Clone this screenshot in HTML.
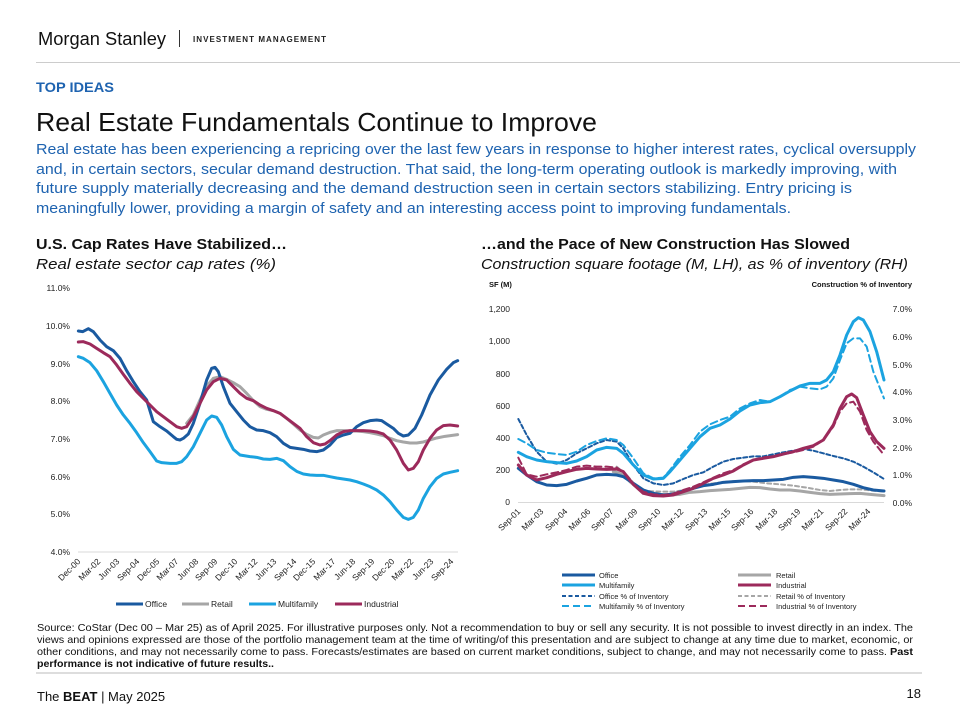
<!DOCTYPE html>
<html><head><meta charset="utf-8"><style>
html,body{margin:0;padding:0;background:#fff;}
svg{display:block;font-family:"Liberation Sans",Arial,sans-serif;}
</style></head><body>
<svg width="960" height="720" viewBox="0 0 960 720" xmlns="http://www.w3.org/2000/svg">
<!-- header -->
<text x="38" y="45" font-size="18" fill="#111" textLength="128" lengthAdjust="spacingAndGlyphs">Morgan Stanley</text>
<line x1="179.5" y1="30" x2="179.5" y2="47" stroke="#333" stroke-width="1"/>
<text x="193" y="42" font-size="8" font-weight="bold" fill="#222" textLength="134" letter-spacing="1">INVESTMENT MANAGEMENT</text>
<line x1="36" y1="62.5" x2="960" y2="62.5" stroke="#ccc" stroke-width="1"/>
<text x="36" y="92" font-size="14" font-weight="bold" fill="#1e63b0" textLength="78" lengthAdjust="spacingAndGlyphs">TOP IDEAS</text>
<text x="36" y="131" font-size="26" fill="#111" textLength="561" lengthAdjust="spacingAndGlyphs">Real Estate Fundamentals Continue to Improve</text>
<g font-size="15" fill="#1e63b0">
<text x="36" y="154" textLength="880" lengthAdjust="spacingAndGlyphs">Real estate has been experiencing a repricing over the last few years in response to higher interest rates, cyclical oversupply</text>
<text x="36" y="174" textLength="861" lengthAdjust="spacingAndGlyphs">and, in certain sectors, secular demand destruction. That said, the long-term operating outlook is markedly improving, with</text>
<text x="36" y="193" textLength="816" lengthAdjust="spacingAndGlyphs">future supply materially decreasing and the demand destruction seen in certain sectors stabilizing. Entry pricing is</text>
<text x="36" y="213" textLength="755" lengthAdjust="spacingAndGlyphs">meaningfully lower, providing a margin of safety and an interesting access point to improving fundamentals.</text>
</g>
<text x="36" y="249" font-size="15" font-weight="bold" fill="#111" textLength="251" lengthAdjust="spacingAndGlyphs">U.S. Cap Rates Have Stabilized…</text>
<text x="36" y="269" font-size="15" font-style="italic" fill="#111" textLength="240" lengthAdjust="spacingAndGlyphs">Real estate sector cap rates (%)</text>
<text x="481" y="249" font-size="15" font-weight="bold" fill="#111" textLength="369" lengthAdjust="spacingAndGlyphs">…and the Pace of New Construction Has Slowed</text>
<text x="481" y="269" font-size="15" font-style="italic" fill="#111" textLength="427" lengthAdjust="spacingAndGlyphs">Construction square footage (M, LH), as % of inventory (RH)</text>

<!-- LEFT CHART -->
<g font-size="8.5" fill="#222" text-anchor="end">
<text x="70" y="291">11.0%</text><text x="70" y="329">10.0%</text><text x="70" y="367">9.0%</text>
<text x="70" y="404">8.0%</text><text x="70" y="442">7.0%</text><text x="70" y="480">6.0%</text>
<text x="70" y="517">5.0%</text><text x="70" y="555">4.0%</text>
</g>
<line x1="78" y1="552" x2="458" y2="552" stroke="#d9d9d9" stroke-width="1"/>
<g font-size="8.5" fill="#222" text-anchor="end">
<text transform="translate(81,562) rotate(-45)">Dec-00</text>
<text transform="translate(101,562) rotate(-45)">Mar-02</text>
<text transform="translate(120,562) rotate(-45)">Jun-03</text>
<text transform="translate(140,562) rotate(-45)">Sep-04</text>
<text transform="translate(160,562) rotate(-45)">Dec-05</text>
<text transform="translate(179,562) rotate(-45)">Mar-07</text>
<text transform="translate(199,562) rotate(-45)">Jun-08</text>
<text transform="translate(218,562) rotate(-45)">Sep-09</text>
<text transform="translate(238,562) rotate(-45)">Dec-10</text>
<text transform="translate(258,562) rotate(-45)">Mar-12</text>
<text transform="translate(277,562) rotate(-45)">Jun-13</text>
<text transform="translate(297,562) rotate(-45)">Sep-14</text>
<text transform="translate(316,562) rotate(-45)">Dec-15</text>
<text transform="translate(336,562) rotate(-45)">Mar-17</text>
<text transform="translate(356,562) rotate(-45)">Jun-18</text>
<text transform="translate(375,562) rotate(-45)">Sep-19</text>
<text transform="translate(395,562) rotate(-45)">Dec-20</text>
<text transform="translate(414,562) rotate(-45)">Mar-22</text>
<text transform="translate(434,562) rotate(-45)">Jun-23</text>
<text transform="translate(454,562) rotate(-45)">Sep-24</text>
</g>
<g transform="translate(30,280) scale(0.33333)" fill="none" stroke-linejoin="round" stroke-linecap="round">
<polyline vector-effect="non-scaling-stroke" stroke-width="3" stroke="#a6a6a6" points="470,430 490,405 510,360 530,318 550,295 570,290 590,298 610,308 630,320 650,340 670,362 690,380 710,388 730,392 750,400 770,415 790,432 810,450 830,463 850,472 865,474 880,465 900,457 920,452 940,452 960,453 980,453 1000,455 1020,458 1040,462 1060,467 1080,475 1100,482 1120,486 1140,489 1160,489 1180,486 1200,480 1220,474 1245,469 1283,464"/>
<polyline vector-effect="non-scaling-stroke" stroke-width="3" stroke="#1ba3e0" points="145,230 160,235 180,248 200,272 220,305 240,340 260,375 280,405 300,430 320,458 340,488 360,515 380,543 395,548 420,550 440,550 455,545 470,530 490,500 510,460 530,420 545,408 560,412 575,435 590,470 610,508 630,525 660,530 680,532 700,537 720,538 740,535 760,542 780,560 800,574 820,582 840,585 860,586 880,586 900,590 920,594 940,597 960,600 980,605 1000,612 1020,620 1040,630 1060,645 1080,665 1100,690 1120,712 1135,718 1150,712 1165,690 1180,655 1200,620 1220,595 1240,582 1260,577 1283,572"/>
<polyline vector-effect="non-scaling-stroke" stroke-width="3" stroke="#1a5aa0" points="145,153 158,155 175,146 190,155 210,180 230,200 250,212 270,235 290,272 310,305 330,335 350,360 370,425 390,440 410,453 430,470 440,478 450,480 460,475 475,462 490,430 510,370 530,300 545,265 555,262 565,275 580,320 600,370 620,395 640,420 660,440 680,450 700,452 720,458 740,470 760,490 780,502 800,505 820,508 840,513 860,515 880,510 900,495 920,473 940,465 960,460 980,440 1000,428 1020,422 1040,420 1055,422 1070,432 1090,445 1105,460 1120,468 1135,465 1155,445 1175,405 1200,345 1225,300 1250,268 1270,248 1283,242"/>
<polyline vector-effect="non-scaling-stroke" stroke-width="3" stroke="#9c2a5b" points="145,186 160,185 180,192 200,205 220,218 240,230 260,255 280,283 300,310 320,335 340,355 360,375 380,395 400,410 420,425 440,440 455,445 470,440 490,410 510,370 530,330 550,305 570,295 590,300 610,320 630,340 650,355 670,362 690,375 710,385 730,392 750,400 770,415 790,430 810,445 830,470 850,488 870,495 885,492 900,482 920,465 940,455 960,452 980,452 1000,452 1020,453 1040,456 1060,462 1080,480 1100,510 1120,550 1135,570 1150,565 1165,545 1180,510 1200,475 1220,450 1240,437 1260,435 1283,438"/>
</g>
<g font-size="8.5" fill="#222">
<line x1="116" y1="604" x2="143" y2="604" stroke="#1a5aa0" stroke-width="3"/><text x="145" y="607">Office</text>
<line x1="182" y1="604" x2="209" y2="604" stroke="#a6a6a6" stroke-width="3"/><text x="211" y="607">Retail</text>
<line x1="249" y1="604" x2="276" y2="604" stroke="#1ba3e0" stroke-width="3"/><text x="278" y="607">Multifamily</text>
<line x1="335" y1="604" x2="362" y2="604" stroke="#9c2a5b" stroke-width="3"/><text x="364" y="607">Industrial</text>
</g>

<!-- RIGHT CHART -->
<text x="489" y="287" font-size="7.5" font-weight="bold" fill="#111">SF (M)</text>
<text x="912" y="287" font-size="7.5" font-weight="bold" fill="#111" text-anchor="end">Construction % of Inventory</text>
<g font-size="8.5" fill="#222" text-anchor="end">
<text x="510" y="312">1,200</text><text x="510" y="344">1,000</text><text x="510" y="377">800</text>
<text x="510" y="409">600</text><text x="510" y="441">400</text><text x="510" y="473">200</text><text x="510" y="505">0</text>
<text x="912" y="312">7.0%</text><text x="912" y="340">6.0%</text><text x="912" y="368">5.0%</text>
<text x="912" y="395">4.0%</text><text x="912" y="423">3.0%</text><text x="912" y="451">2.0%</text>
<text x="912" y="478">1.0%</text><text x="912" y="506">0.0%</text>
</g>
<line x1="518" y1="502.5" x2="884" y2="502.5" stroke="#d9d9d9" stroke-width="1"/>
<g font-size="8.5" fill="#222" text-anchor="end">
<text transform="translate(521,512) rotate(-45)">Sep-01</text>
<text transform="translate(544,512) rotate(-45)">Mar-03</text>
<text transform="translate(568,512) rotate(-45)">Sep-04</text>
<text transform="translate(591,512) rotate(-45)">Mar-06</text>
<text transform="translate(614,512) rotate(-45)">Sep-07</text>
<text transform="translate(638,512) rotate(-45)">Mar-09</text>
<text transform="translate(661,512) rotate(-45)">Sep-10</text>
<text transform="translate(684,512) rotate(-45)">Mar-12</text>
<text transform="translate(708,512) rotate(-45)">Sep-13</text>
<text transform="translate(731,512) rotate(-45)">Mar-15</text>
<text transform="translate(754,512) rotate(-45)">Sep-16</text>
<text transform="translate(778,512) rotate(-45)">Mar-18</text>
<text transform="translate(801,512) rotate(-45)">Sep-19</text>
<text transform="translate(824,512) rotate(-45)">Mar-21</text>
<text transform="translate(848,512) rotate(-45)">Sep-22</text>
<text transform="translate(871,512) rotate(-45)">Mar-24</text>
</g>
<g transform="translate(480,275) scale(0.33333)" fill="none" stroke-linejoin="round" stroke-linecap="round">
<polyline vector-effect="non-scaling-stroke" stroke-width="3" stroke="#a6a6a6" points="400,590 410,592 430,600 450,620 480,645 510,655 540,658 570,660 600,658 630,652 660,650 690,647 720,645 750,643 780,640 810,637 840,638 870,642 900,645 930,645 960,648 990,652 1020,656 1050,658 1080,657 1110,656 1140,655 1170,658 1212,662"/>
<polyline vector-effect="non-scaling-stroke" stroke-width="2" stroke="#a6a6a6" stroke-dasharray="4,3" points="410,575 440,600 470,635 500,648 540,650 580,650 620,645 660,632 700,625 740,620 780,618 820,620 860,625 900,628 940,632 980,638 1020,645 1050,648 1080,645 1110,643 1140,643 1170,646 1212,650"/>
<polyline vector-effect="non-scaling-stroke" stroke-width="3" stroke="#1a5aa0" points="115,580 140,600 170,620 200,630 230,632 260,628 290,618 320,610 350,600 380,598 410,600 430,605 460,625 490,645 520,655 550,660 580,657 610,648 640,640 670,632 700,628 730,622 760,620 790,618 820,617 850,617 880,615 910,613 940,607 970,605 1000,607 1030,610 1060,615 1090,620 1120,628 1150,638 1180,645 1212,648"/>
<polyline vector-effect="non-scaling-stroke" stroke-width="2" stroke="#1a5aa0" stroke-dasharray="4,2.5" points="115,432 140,480 170,530 200,560 230,566 260,555 290,535 320,520 350,505 380,495 410,500 430,520 460,570 490,610 520,625 550,630 580,625 610,612 640,600 670,592 700,575 730,560 760,552 790,548 820,544 850,544 880,538 910,532 940,527 970,522 1000,527 1030,535 1060,543 1090,550 1120,560 1150,575 1180,592 1212,612"/>
<polyline vector-effect="non-scaling-stroke" stroke-width="3" stroke="#9c2a5b" points="115,570 140,600 170,615 200,608 230,598 260,590 290,583 320,580 350,582 380,583 410,582 430,590 460,628 490,655 520,662 550,663 580,660 610,650 640,640 670,625 700,610 730,600 760,588 790,570 820,555 850,550 880,545 910,537 940,530 970,520 1000,512 1030,495 1060,450 1080,400 1100,365 1115,357 1130,368 1150,420 1170,470 1190,500 1212,520"/>
<polyline vector-effect="non-scaling-stroke" stroke-width="2" stroke="#9c2a5b" stroke-dasharray="7,4" points="115,548 140,598 170,605 200,598 230,592 260,585 290,575 320,572 350,575 380,575 410,578 430,590 460,628 490,650 520,658 550,660 580,656 610,645 640,635 670,622 700,608 730,595 760,585 790,568 820,555 850,547 880,544 910,537 940,532 970,525 1000,515 1030,495 1060,455 1080,410 1100,385 1120,380 1140,410 1160,465 1180,500 1212,540"/>
<polyline vector-effect="non-scaling-stroke" stroke-width="3" stroke="#1ba3e0" points="115,532 140,545 170,555 200,560 230,563 260,565 290,558 320,545 350,525 380,517 410,520 430,535 460,570 490,600 520,612 550,610 570,590 600,555 630,520 660,485 690,460 720,450 750,432 780,408 810,390 840,383 870,380 900,365 930,348 960,333 990,325 1020,325 1040,315 1060,290 1080,240 1100,180 1120,140 1135,128 1150,135 1170,170 1190,230 1212,315"/>
<polyline vector-effect="non-scaling-stroke" stroke-width="2" stroke="#1ba3e0" stroke-dasharray="7,4" points="115,492 140,505 170,525 200,533 230,537 260,540 290,530 320,510 350,498 380,490 410,495 430,510 460,550 490,595 520,610 550,608 570,585 600,545 630,510 660,470 690,448 720,435 750,425 780,400 810,385 840,375 870,380 900,365 930,345 960,335 990,340 1020,343 1040,335 1060,310 1080,255 1100,205 1120,190 1140,190 1160,215 1180,290 1212,370"/>
</g>
<g font-size="7.5" fill="#222">
<line x1="562" y1="575" x2="595" y2="575" stroke="#1a5aa0" stroke-width="3"/><text x="599" y="578">Office</text>
<line x1="738" y1="575" x2="771" y2="575" stroke="#a6a6a6" stroke-width="3"/><text x="776" y="578">Retail</text>
<line x1="562" y1="585" x2="595" y2="585" stroke="#1ba3e0" stroke-width="3"/><text x="599" y="588">Multifamily</text>
<line x1="738" y1="585" x2="771" y2="585" stroke="#9c2a5b" stroke-width="3"/><text x="776" y="588">Industrial</text>
<line x1="562" y1="596" x2="595" y2="596" stroke="#1a5aa0" stroke-width="2" stroke-dasharray="4,2.5"/><text x="599" y="599">Office % of Inventory</text>
<line x1="738" y1="596" x2="771" y2="596" stroke="#a6a6a6" stroke-width="2" stroke-dasharray="4,2.5"/><text x="776" y="599">Retail % of Inventory</text>
<line x1="562" y1="606" x2="595" y2="606" stroke="#1ba3e0" stroke-width="2" stroke-dasharray="7,4"/><text x="599" y="609">Multifamily % of Inventory</text>
<line x1="738" y1="606" x2="771" y2="606" stroke="#9c2a5b" stroke-width="2" stroke-dasharray="7,4"/><text x="776" y="609">Industrial % of Inventory</text>
</g>

<!-- source -->
<g font-size="10.5" fill="#111">
<text x="37" y="631" textLength="876" lengthAdjust="spacingAndGlyphs">Source: CoStar (Dec 00 – Mar 25) as of April 2025. For illustrative purposes only. Not a recommendation to buy or sell any security. It is not possible to invest directly in an index. The</text>
<text x="37" y="643" textLength="876" lengthAdjust="spacingAndGlyphs">views and opinions expressed are those of the portfolio management team at the time of writing/of this presentation and are subject to change at any time due to market, economic, or</text>
<text x="37" y="655" textLength="876" lengthAdjust="spacingAndGlyphs">other conditions, and may not necessarily come to pass.  Forecasts/estimates are based on current market conditions, subject to change, and may not necessarily come to pass. <tspan font-weight="bold">Past</tspan></text>
<text x="37" y="667" font-weight="bold" textLength="237" lengthAdjust="spacingAndGlyphs">performance is not indicative of future results..</text>
</g>
<line x1="36" y1="673" x2="922" y2="673" stroke="#ddd" stroke-width="2"/>
<text x="37" y="701" font-size="13" fill="#111">The <tspan font-weight="bold">BEAT</tspan> | May 2025</text>
<text x="921" y="698" font-size="13" fill="#111" text-anchor="end">18</text>
</svg>
</body></html>
